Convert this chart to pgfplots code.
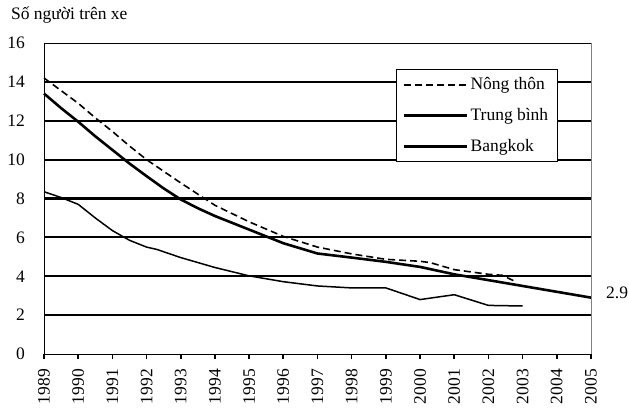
\documentclass[border=0pt]{standalone}
\usepackage{fontspec}
\setmainfont{Liberation Serif}
\usepackage{pgfplots}
\pgfplotsset{compat=1.18}

\begin{document}
\fontsize{17.5bp}{21bp}\selectfont
\begin{tikzpicture}
\begin{axis}[
  name=ax,
  at={(0,0)}, anchor=south west,
  scale only axis,
  width=547bp, height=311bp,
  xmin=1989, xmax=2005,
  ymin=0, ymax=16,
  xtick={1989,...,2005},
  ytick={0,2,...,16},
  /pgf/number format/1000 sep={},
  /pgf/number format/assume math mode=true,
  x tick label style={rotate=90, anchor=east},
  xticklabel shift=4bp,
  yticklabel style={xshift=-8bp},
  xtick pos=bottom,
  tick align=outside,
  major tick length=5bp,
  xtick style={line width=1.6pt, black},
  ytick style={draw=none},
  extra y ticks={2,4,...,14},
  extra y tick labels={},
  extra y tick style={ymajorgrids=true, major grid style={line width=2.2pt, black}},
  axis line style={line width=0.7pt, black},
  x axis line style={line width=1.6pt},
  clip=false,
  legend style={at={(rel axis cs:0.643,0.916)}, anchor=north west,
    draw=black, line width=0.6pt, fill=white,
    inner xsep=7bp, inner ysep=6bp, row sep=12bp,
    /tikz/every even column/.append style={column sep=5bp}},
  legend cell align=left,
  legend image code/.code={\draw[#1] (0bp,0bp) -- (63bp,0bp);},
]
\addplot[black, line width=1.6pt, dash pattern=on 7bp off 4bp] coordinates {
  (1989,14.2) (1989.5,13.55) (1990,12.9) (1990.5,12.15) (1991,11.45) (1991.5,10.7)
  (1992,10.0) (1992.5,9.4) (1993,8.8) (1994,7.65) (1995,6.8) (1996,6.05)
  (1997,5.5) (1998,5.15) (1999,4.87) (2000,4.77) (2000.3,4.7) (2001,4.34)
  (2002,4.1) (2002.4,4.05) (2002.75,3.76)
};
\addlegendentry{Nông thôn}
\addplot[black, line width=2.6pt] coordinates {
  (1989,13.4) (1989.5,12.65) (1990,11.95) (1990.5,11.2) (1991,10.5) (1991.5,9.8)
  (1992,9.15) (1992.5,8.52) (1993,7.95) (1993.5,7.5) (1994,7.1) (1995,6.4)
  (1996,5.7) (1997,5.17) (1998,4.96) (1999,4.74) (2000,4.48) (2001,4.1)
  (2002,3.8) (2003,3.5) (2004,3.2) (2005,2.9)
};
\addlegendentry{Trung bình}
\addplot[black, line width=1.5pt, forget plot] coordinates {
  (1989,8.35) (1989.5,8.05) (1990,7.7) (1990.5,7.0) (1991,6.35) (1991.5,5.85)
  (1992,5.5) (1992.3,5.38) (1993,4.96) (1994,4.45) (1995,4.02) (1996,3.72)
  (1997,3.5) (1998,3.4) (1999,3.4) (2000,2.8) (2001,3.05) (2002,2.5) (2003,2.47)
};
\addlegendimage{black, line width=2.6pt}
\addlegendentry{Bangkok}
\draw[gray, line width=1pt] (rel axis cs:1,0) -- (rel axis cs:1,1);
\node[anchor=west, inner sep=0pt] at ([xshift=15bp,yshift=5bp]axis cs:2005,2.9) {2.9};
\node[anchor=base west] at ([xshift=-39bp,yshift=23bp]rel axis cs:0,1) {Số người trên xe};
\end{axis}
\pgfresetboundingbox
\path[use as bounding box] ([xshift=-44bp,yshift=-59bp]ax.south west) rectangle ([xshift=38bp,yshift=43bp]ax.north east);
\end{tikzpicture}
\end{document}
